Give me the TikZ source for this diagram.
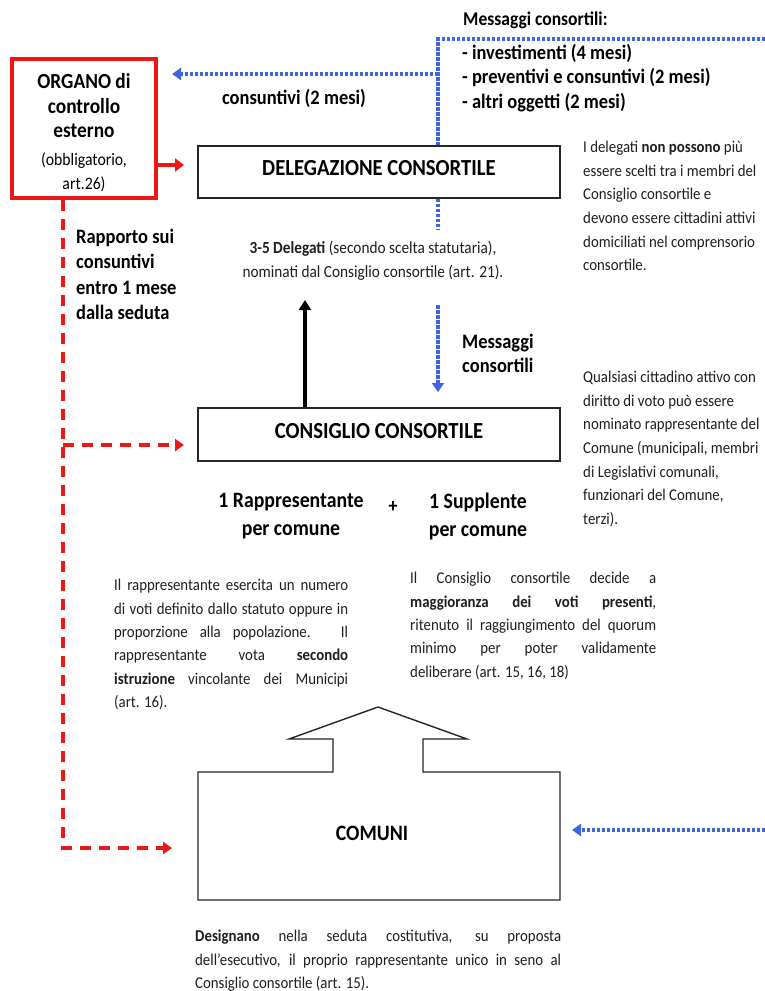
\documentclass[tikz,border=0pt]{standalone}
\usepackage{fontspec}
\setmainfont{Carlito}[FakeStretch=0.9]
\usetikzlibrary{arrows.meta}
\definecolor{myblue}{RGB}{62,100,228}
\definecolor{myred}{RGB}{236,24,24}
\begin{document}
\begin{tikzpicture}[x=1pt,y=-1pt,
  box/.style={draw=black!85, line width=1.4pt, minimum width=362pt, minimum height=52pt, inner sep=0pt, text depth=8pt, font=\fontsize{23}{25}\selectfont\bfseries},
  bluedot/.style={draw=myblue, line width=3.5pt, dash pattern=on 3.5pt off 1.5pt},
  bluearr/.style={bluedot, -{Triangle[length=9pt,width=12pt]}},
  reddash/.style={draw=myred, line width=3.5pt, dash pattern=on 11pt off 8pt},
  redarr/.style={reddash, -{Triangle[length=9pt,width=12pt]}},
  redsolid/.style={draw=myred, line width=4pt, -{Triangle[length=9pt,width=13pt]}},
  blackarr/.style={draw=black, line width=4pt, -{Triangle[length=10pt,width=12pt]}},
  lbl/.style={inner sep=0pt, font=\fontsize{20.5}{25.3}\selectfont\bfseries},
  side/.style={inner sep=0pt, text=black!88, font=\fontsize{16.5}{23.6}\selectfont},
  para/.style={inner sep=0pt, text=black!88, font=\fontsize{16.5}{23.4}\selectfont},
]
\useasboundingbox (0,0) rectangle (765,991);
\fill[white] (0,0) rectangle (765,991);

% boxes
\node[draw=myred, line width=4pt, minimum width=144pt, minimum height=139pt, inner sep=0pt] (org) at (84,128.5) {};
\node[inner sep=0pt, align=center, font=\fontsize{21.5}{24.5}\selectfont\bfseries] (orgtxt) at (84,133)
  {ORGANO di\\controllo\\esterno\\[3pt]{\mdseries\fontsize{17.5}{23}\selectfont (obbligatorio,}\\{\mdseries\fontsize{17.5}{23}\selectfont art.26)}};
\node[box] (del) at (379,172) {DELEGAZIONE CONSORTILE};
\node[box, minimum height=53pt] (cons) at (379,434.5) {CONSIGLIO CONSORTILE};
\draw[draw=black!85, line width=1.4pt] (198,772) -- (333,772) -- (333,739) -- (289,739) -- (378,707) -- (467,739) -- (423,739) -- (423,772) -- (560,772) -- (560,900) -- (198,900) -- cycle;
\node[inner sep=0pt, font=\fontsize{22}{24}\selectfont\bfseries] (com) at (372,833) {COMUNI};

% texts
\node[lbl, anchor=center] (cons2) at (294,98) {consuntivi (2 mesi)};
\node[lbl, anchor=west, font=\fontsize{19.5}{22}\selectfont\bfseries] (msgh) at (463,20) {Messaggi consortili:};
\node[lbl, anchor=north west, align=left, font=\fontsize{20.5}{24.5}\selectfont\bfseries] (msgl) at (462,44)
  {- investimenti (4 mesi)\\- preventivi e consuntivi (2 mesi)\\- altri oggetti (2 mesi)};
\node[side, anchor=north west, align=left] (t1) at (583,141)
  {I delegati \textbf{non possono} più\\essere scelti tra i membri del\\Consiglio consortile e\\devono essere cittadini attivi\\domiciliati nel comprensorio\\consortile.};
\node[lbl, anchor=north west, align=left] (rap) at (76,229)
  {Rapporto sui\\consuntivi\\entro 1 mese\\dalla seduta};
\node[side, anchor=north, align=center, font=\fontsize{17}{24}\selectfont] (t2) at (373,241)
  {\textbf{3-5 Delegati} (secondo scelta statutaria),\\nominati dal Consiglio consortile (art. 21).};
\node[lbl, anchor=north west, align=left, font=\fontsize{20.5}{23.5}\selectfont\bfseries] (msg2) at (462,334)
  {Messaggi\\consortili};
\node[side, anchor=north west, align=left] (t3) at (583,371)
  {Qualsiasi cittadino attivo con\\diritto di voto può essere\\nominato rappresentante del\\Comune (municipali, membri\\di Legislativi comunali,\\funzionari del Comune,\\terzi).};
\node[lbl, anchor=north, align=center, font=\fontsize{22}{28}\selectfont\bfseries] (rp) at (291,493)
  {1 Rappresentante\\per comune};
\node[lbl, font=\fontsize{20}{22}\selectfont\bfseries] (plus) at (393,507) {+};
\node[lbl, anchor=north, align=center, font=\fontsize{22}{28}\selectfont\bfseries] (sp) at (478,493)
  {1 Supplente\\per comune};
\node[para, anchor=north west, text width=234pt, align=justify] (t4) at (114,579)
  {Il rappresentante esercita un numero\linebreak di voti definito dallo statuto oppure in\linebreak proporzione alla popolazione. Il\linebreak rappresentante vota \textbf{secondo}\linebreak \textbf{istruzione} vincolante dei Municipi\linebreak (art. 16).};
\node[para, anchor=north west, text width=246pt, align=justify] (t5) at (410,572)
  {Il Consiglio consortile decide a\linebreak \textbf{maggioranza dei voti presenti},\linebreak ritenuto il raggiungimento del quorum\linebreak minimo per poter validamente\linebreak deliberare (art. 15, 16, 18)};
\node[para, anchor=north west, text width=366pt, align=justify] (t6) at (195,930)
  {\textbf{Designano} nella seduta costitutiva, su proposta\linebreak dell'esecutivo, il proprio rappresentante unico in seno al\linebreak Consiglio consortile (art. 15).};

% blue connectors
\coordinate (tj) at (438,39);
\coordinate (tr) at (765,39);
\coordinate (ml) at (438,74);
\coordinate (mlend) at (172,74);
\coordinate (d1) at (438,230);
\coordinate (d2) at (438,305);
\coordinate (d3) at (438,392);
\coordinate (br) at (765,830);
\coordinate (bl) at (572,830);
\draw[bluedot] (tr) -- (tj) -- (del.north -| tj);
\draw[bluearr] (ml) -- (mlend);
\draw[bluedot] (del.south -| tj) -- (d1);
\draw[bluearr] (d2) -- (d3);
\draw[bluearr] (br) -- (bl);

% red connectors
\coordinate (rc) at (63,848);
\coordinate (rcend) at (172,848);
\coordinate (rb) at (63,445);
\coordinate (rbend) at (184,445);
\coordinate (rs) at (184,165);
\draw[redarr] (org.south -| rc) -- (rc) -- (rcend);
\draw[redarr] (rb) -- (rbend);
\draw[redsolid] (org.east |- rs) -- (rs);

% black arrow
\coordinate (ba) at (305,300);
\draw[blackarr] (cons.north -| ba) -- (ba);
\end{tikzpicture}
\end{document}
